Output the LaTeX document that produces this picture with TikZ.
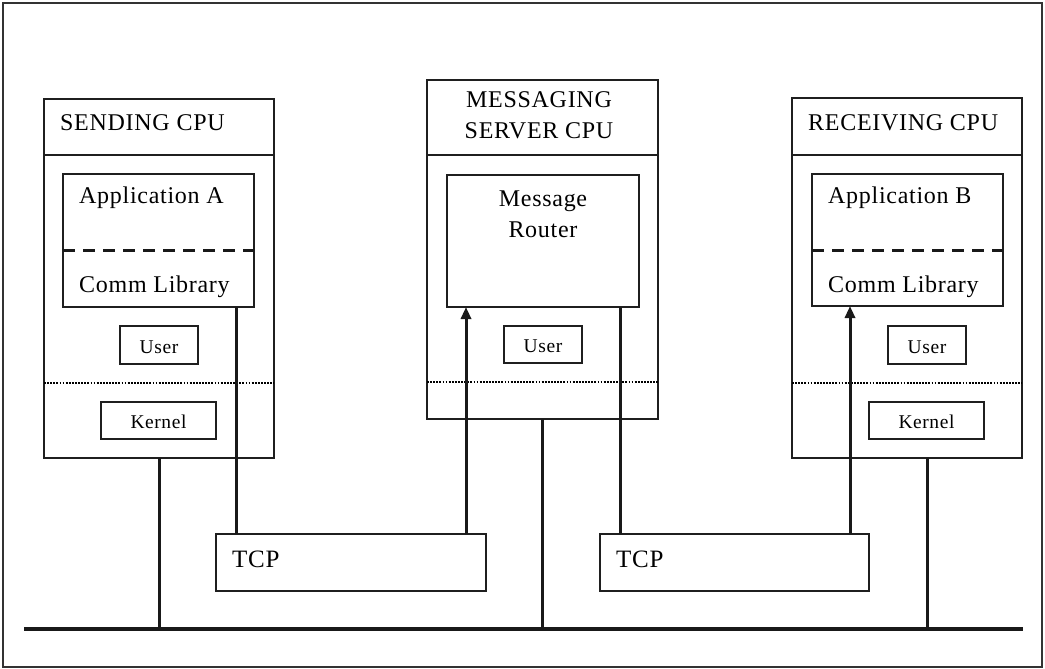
\documentclass[tikz,border=0pt]{standalone}
\usepackage{fontspec}
\setmainfont{Liberation Serif}[LetterSpace=3]
\usetikzlibrary{arrows.meta,calc}

\begin{document}
\begin{tikzpicture}[x=1pt,y=-1pt,
  outline/.style={draw=black!88, line width=1.3pt},
  box/.style={outline, inner sep=0pt, outer sep=0pt},
  divider/.style={draw=black!88, line width=1.3pt},
  layer/.style={draw=black!90, line width=3pt, dash pattern=on 12pt off 8pt},
  modeline/.style={draw=black, line width=2pt, dash pattern=on 1.8pt off 1.3pt},
  conn/.style={draw=black!90, line width=3pt},
  arr/.style={-{Triangle[length=12pt,width=10pt]}},
  busline/.style={draw=black!90, line width=3.5pt},
  big/.style={font=\fontsize{24}{30.5}\selectfont, inner sep=0pt},
  small/.style={font=\fontsize{19.5}{22}\selectfont, inner sep=0pt},
  tcpfont/.style={font=\fontsize{25}{30}\selectfont, inner sep=0pt}
]
\useasboundingbox (0,0) rectangle (1045,669);
\fill[white] (0,0) rectangle (1045,669);
\draw[draw=black!80, line width=1.5pt] (3,3) rectangle (1042,667);

% ---- sending host ----
\node[box, minimum width=230pt, minimum height=359pt] (send) at (159,278.5) {};
\draw[divider] (send.west |- 0,155) -- (send.east |- 0,155);
\node[big, anchor=base west] (sendt) at (60,131) {SENDING CPU};
\node[box, minimum width=191pt, minimum height=133pt] (appA) at (158.5,240.5) {};
\draw[layer] (appA.west |- 0,250) -- (appA.east |- 0,250);
\node[big, anchor=base west] (appAt) at (79,203) {Application A};
\node[big, anchor=base west] (libAt) at (79,292) {Comm Library};
\node[box, minimum width=78pt, minimum height=38pt] (userA) at (159,345) {};
\node[small, anchor=base] (userAt) at (159,353) {User};
\draw[modeline] (send.west |- 0,383) -- (send.east |- 0,383);
\node[box, minimum width=115pt, minimum height=37pt] (kernA) at (158.5,420.5) {};
\node[small, anchor=base] (kernAt) at (158.5,428) {Kernel};

% ---- messaging server ----
\node[box, minimum width=231pt, minimum height=339pt] (msg) at (542.5,249.5) {};
\draw[divider] (msg.west |- 0,155) -- (msg.east |- 0,155);
\node[big, align=center] (msgt) at (539,115) {MESSAGING\\SERVER CPU};
\node[box, minimum width=192pt, minimum height=132pt] (router) at (543,241) {};
\node[big, align=center] (routert) at (543,214.5) {Message\\Router};
\node[box, minimum width=78pt, minimum height=37pt] (userM) at (543,344.5) {};
\node[small, anchor=base] (userMt) at (543,352) {User};
\draw[modeline] (msg.west |- 0,382) -- (msg.east |- 0,382);

% ---- receiving host ----
\node[box, minimum width=230pt, minimum height=360pt] (recv) at (907,278) {};
\draw[divider] (recv.west |- 0,155) -- (recv.east |- 0,155);
\node[big, anchor=base west] (recvt) at (808,131) {RECEIVING CPU};
\node[box, minimum width=191pt, minimum height=132pt] (appB) at (907.5,240) {};
\draw[layer] (appB.west |- 0,250) -- (appB.east |- 0,250);
\node[big, anchor=base west] (appBt) at (828,203) {Application B};
\node[big, anchor=base west] (libBt) at (828,292) {Comm Library};
\node[box, minimum width=78pt, minimum height=38pt] (userB) at (927,345) {};
\node[small, anchor=base] (userBt) at (927,353) {User};
\draw[modeline] (recv.west |- 0,383) -- (recv.east |- 0,383);
\node[box, minimum width=115pt, minimum height=37pt] (kernB) at (926.5,420.5) {};
\node[small, anchor=base] (kernBt) at (926.5,428) {Kernel};

% ---- transport ----
\node[box, minimum width=270pt, minimum height=57pt] (tcp1) at (351,562.5) {};
\node[tcpfont, anchor=base west] (tcp1t) at (232,567) {TCP};
\node[box, minimum width=269pt, minimum height=57pt] (tcp2) at (734.5,562.5) {};
\node[tcpfont, anchor=base west] (tcp2t) at (616,567) {TCP};

% ---- network bus ----
\coordinate (bl) at (24,629);
\coordinate (br) at (1023,629);

% ---- connectors ----
\draw[conn] ([xshift=-18pt]appA.south east) coordinate (c1) -- (c1 |- tcp1.north);
\draw[conn] (send.south) -- (send.south |- bl);
\draw[conn,arr] ([xshift=-20pt]tcp1.north east) coordinate (c2) -- (c2 |- router.south);
\draw[conn] ([xshift=-19pt]router.south east) coordinate (c3) -- (c3 |- tcp2.north);
\draw[conn] (msg.south) -- (msg.south |- bl);
\draw[conn,arr] ([xshift=-19pt]tcp2.north east) coordinate (c4) -- (c4 |- appB.south);
\draw[conn] ([xshift=20pt]recv.south) coordinate (c5) -- (c5 |- bl);
\draw[busline] (bl) -- (br);
\end{tikzpicture}
\end{document}
